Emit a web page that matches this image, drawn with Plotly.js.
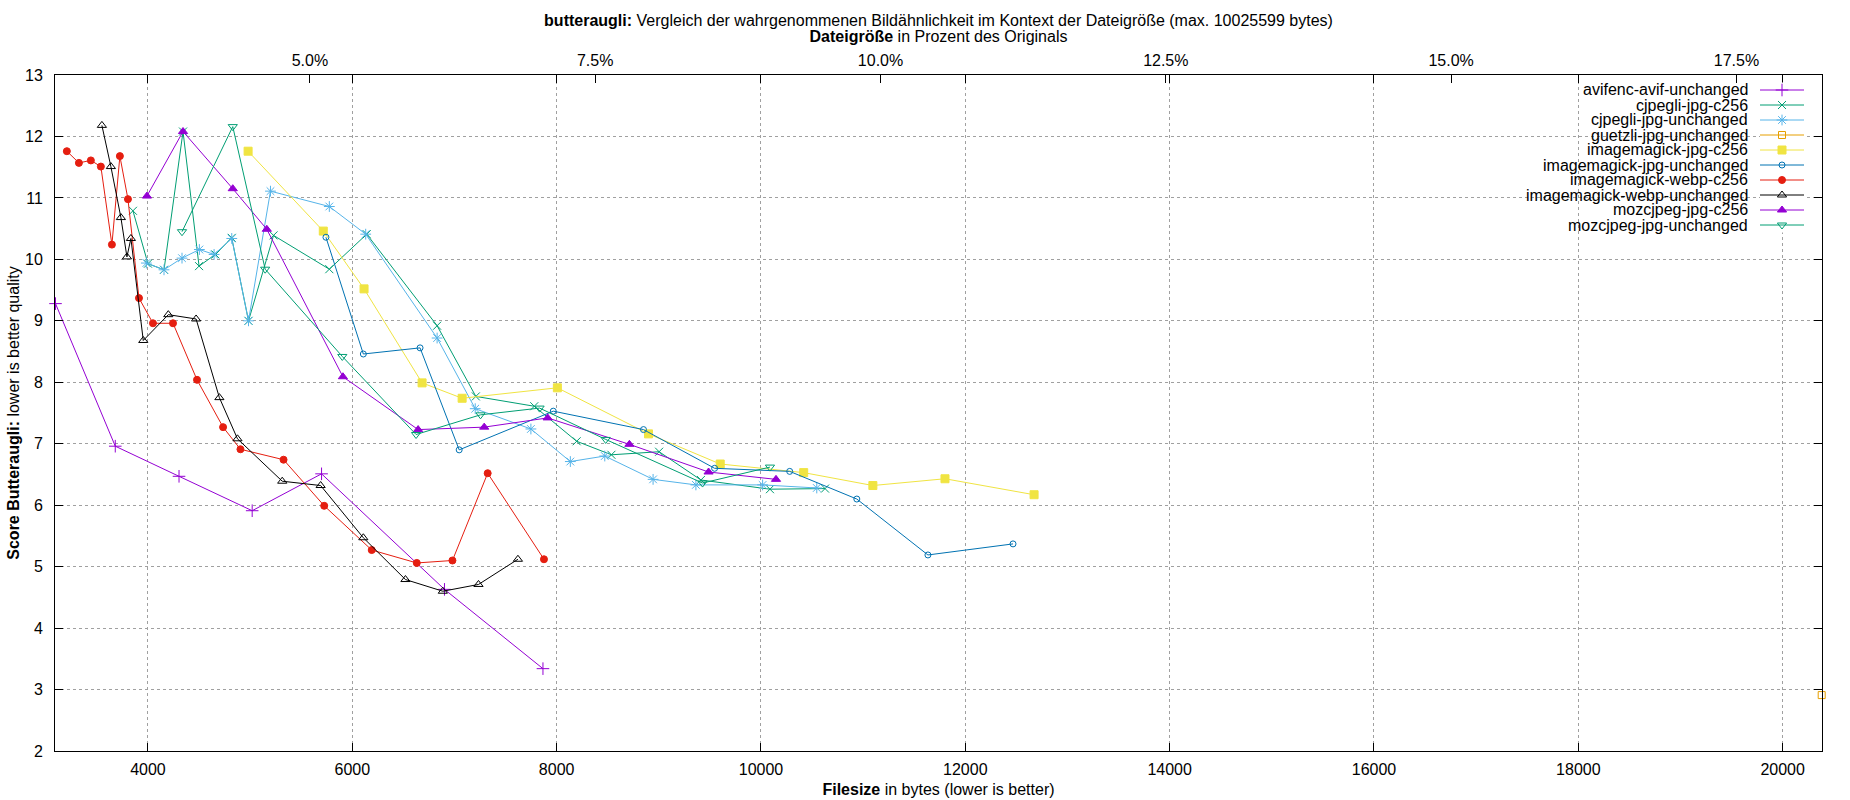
<!DOCTYPE html>
<html>
<head>
<meta charset="utf-8">
<script src="https://cdn.plot.ly/plotly-3.0.1.min.js"></script>
<style>
  body { margin: 0; background: #fff; }
  #graph { width: 1850px; height: 800px; }
</style>
</head>
<body>
<div id="graph"></div>
<script>
// filesize in bytes / butteraugli score, one pair of arrays per encoder
const avifX = [3095, 3680, 4304, 5020, 5699, 6902, 7866];
const avifY = [9.28, 6.96, 6.47, 5.91, 6.51, 4.63, 3.34];

const cjpegliC256X = [3853, 4000, 4157, 4343, 4500, 4660, 4820, 4984, 5229, 5775, 6141, 6830, 7209, 7781, 8196, 8536, 9003, 9412, 10088, 10627];
const cjpegliC256Y = [10.79, 9.93, 9.83, 12.08, 9.89, 10.08, 10.35, 9.0, 10.39, 9.84, 10.41, 8.92, 7.77, 7.61, 7.04, 6.82, 6.87, 6.41, 6.26, 6.27];

const cjpegliUnchX = [3984, 4157, 4333, 4503, 4647, 4820, 4984, 5199, 5775, 6131, 6830, 7203, 7748, 8134, 8471, 8944, 9363, 10016, 10546];
const cjpegliUnchY = [9.94, 9.83, 10.02, 10.16, 10.08, 10.34, 9.0, 11.11, 10.86, 10.41, 8.72, 7.57, 7.24, 6.71, 6.80, 6.42, 6.33, 6.33, 6.28];

const guetzliX = [20382];
const guetzliY = [2.91];

const imJpgC256X = [4980, 5716, 6115, 6683, 7075, 8007, 8899, 9601, 10418, 11095, 11801, 12673];
const imJpgC256Y = [11.76, 10.46, 9.52, 7.99, 7.74, 7.91, 7.16, 6.67, 6.53, 6.32, 6.43, 6.17];

const imJpgUnchX = [5742, 6108, 6663, 7046, 7967, 8850, 9546, 10281, 10938, 11634, 12467];
const imJpgUnchY = [10.36, 8.46, 8.56, 6.90, 7.53, 7.23, 6.60, 6.55, 6.10, 5.19, 5.37];

const imWebpC256X = [3206, 3324, 3441, 3539, 3647, 3725, 3804, 3912, 4049, 4245, 4480, 4735, 4905, 5327, 5725, 6190, 6631, 6980, 7325, 7876];
const imWebpC256Y = [11.76, 11.57, 11.61, 11.51, 10.24, 11.68, 10.98, 9.37, 8.96, 8.96, 8.04, 7.27, 6.91, 6.74, 5.99, 5.27, 5.06, 5.10, 6.52, 5.12];

const imWebpUnchX = [3549, 3637, 3735, 3794, 3833, 3954, 4199, 4471, 4699, 4876, 5314, 5690, 6108, 6520, 6886, 7235, 7621];
const imWebpUnchY = [12.18, 11.51, 10.68, 10.04, 10.34, 8.68, 9.10, 9.03, 7.75, 7.08, 6.39, 6.32, 5.47, 4.79, 4.60, 4.71, 5.12];

const mozC256X = [3990, 4343, 4830, 5163, 5908, 6644, 7291, 7912, 8712, 9487, 10147];
const mozC256Y = [11.03, 12.08, 11.15, 10.49, 8.09, 7.23, 7.27, 7.42, 6.99, 6.54, 6.42];

const mozUnchX = [4333, 4830, 5147, 5902, 6624, 7255, 7833, 8480, 9428, 10088];
const mozUnchY = [10.45, 12.16, 9.84, 8.42, 7.15, 7.47, 7.58, 7.07, 6.36, 6.62];

const seriesNames = [
  "avifenc-avif-unchanged", "cjpegli-jpg-c256", "cjpegli-jpg-unchanged",
  "guetzli-jpg-unchanged", "imagemagick-jpg-c256", "imagemagick-jpg-unchanged",
  "imagemagick-webp-c256", "imagemagick-webp-unchanged", "mozcjpeg-jpg-c256",
  "mozcjpeg-jpg-unchanged"
];
const seriesX = [avifX, cjpegliC256X, cjpegliUnchX, guetzliX, imJpgC256X, imJpgUnchX, imWebpC256X, imWebpUnchX, mozC256X, mozUnchX];
const seriesY = [avifY, cjpegliC256Y, cjpegliUnchY, guetzliY, imJpgC256Y, imJpgUnchY, imWebpC256Y, imWebpUnchY, mozC256Y, mozUnchY];

const xTicks = [4000, 6000, 8000, 10000, 12000, 14000, 16000, 18000, 20000];
const yTicks = [2, 3, 4, 5, 6, 7, 8, 9, 10, 11, 12, 13];
const pctTicks = [5, 7.5, 10, 12.5, 15, 17.5];
const pctLabels = ["5.0%", "7.5%", "10.0%", "12.5%", "15.0%", "17.5%"];
const originalBytes = 111700; // 100% on the top axis

// gnuplot default look
const COLORS = ["#9400d3", "#009e73", "#56b4e9", "#e69f00", "#f0e442", "#0072b2", "#e51e10", "#000000", "#9400d3", "#009e73"];
const SYMBOLS = ["cross-thin-open", "x-thin-open", "asterisk-open", "square-open", "square", "circle-open", "circle", "triangle-up-open", "triangle-up", "triangle-down-open"];
const SIZES = [9, 8, 9, 7, 8, 6, 7, 8, 8, 8];

const FONT = "Liberation Sans, Arial, sans-serif";
const W = 1850, H = 800;
const plotL = 55, plotR = 1822, plotT = 75, plotB = 751;
const xRange = [3090, 20385];
const pctRange = xRange.map((b) => (b / originalBytes) * 100);

const px = (x) => (x - plotL) / (plotR - plotL);
const py = (y) => (plotB - y) / (plotB - plotT);

const marker = (i) => ({
  symbol: SYMBOLS[i],
  size: SIZES[i],
  color: COLORS[i],
  line: { color: COLORS[i], width: 1 },
});

const traces = seriesNames.map((name, i) => ({
  x: seriesX[i],
  y: seriesY[i],
  name: name,
  type: "scatter",
  mode: "lines+markers",
  line: { color: COLORS[i], width: 1 },
  marker: marker(i),
  cliponaxis: false,
  showlegend: false,
  hoverinfo: "skip",
}));

// the top percent axis only gets drawn when something sits on it
traces.push({
  x: pctRange, y: [2, 2], xaxis: "x2", yaxis: "y",
  type: "scatter", mode: "markers",
  marker: { opacity: 0 },
  showlegend: false, hoverinfo: "skip",
});

// legend samples on a hidden little axis pair, gnuplot style (text left, sample right)
const rowH = 15, firstRow = 90;
seriesNames.forEach((name, i) => {
  traces.push({
    x: [0, 1], y: [i, i], xaxis: "x3", yaxis: "y3",
    type: "scatter", mode: "lines",
    line: { color: COLORS[i], width: 1 },
    showlegend: false, hoverinfo: "skip",
  });
  traces.push({
    x: [0.5], y: [i], xaxis: "x3", yaxis: "y3",
    type: "scatter", mode: "markers",
    marker: marker(i), cliponaxis: false,
    showlegend: false, hoverinfo: "skip",
  });
});

const legendAnnotations = seriesNames.map((name, i) => ({
  text: name,
  xref: "paper", yref: "paper",
  x: px(1750), y: py(firstRow + rowH * i),
  xanchor: "right", yanchor: "middle",
  showarrow: false,
  font: { family: FONT, size: 16, color: "#000" },
}));

const tickStyle = {
  ticks: "inside", ticklen: 8, tickcolor: "#000", tickwidth: 1,
  tickfont: { family: FONT, size: 16, color: "#000" },
};

const gridStyle = Object.assign({
  showgrid: true, gridcolor: "#a0a0a0", gridwidth: 1, griddash: "dot",
  zeroline: false, showline: true, linecolor: "#000", linewidth: 1,
}, tickStyle);

const layout = {
  width: W, height: H,
  margin: { l: plotL, r: W - plotR, t: plotT, b: H - plotB, pad: 0 },
  paper_bgcolor: "#fff", plot_bgcolor: "#fff",
  font: { family: FONT, size: 16, color: "#000" },
  showlegend: false,
  hovermode: false,
  title: {
    text: "<b>butteraugli:</b> Vergleich der wahrgenommenen Bildähnlichkeit im Kontext der Dateigröße (max. 10025599 bytes)",
    font: { family: FONT, size: 16, color: "#000" },
    xref: "paper", x: 0.5, xanchor: "center",
    yref: "container", y: 1 - 20 / H, yanchor: "middle",
  },
  xaxis: Object.assign({}, gridStyle, {
    range: xRange,
    tickvals: xTicks,
    tickformat: "d",
    mirror: "ticks",
    ticklabelstandoff: 4,
    title: {
      text: "<b>Filesize</b> in bytes (lower is better)",
      font: { family: FONT, size: 16, color: "#000" },
      standoff: 6,
    },
  }),
  xaxis2: Object.assign({}, tickStyle, {
    overlaying: "x", side: "top", anchor: "y",
    range: pctRange,
    tickvals: pctTicks,
    ticktext: pctLabels,
    showgrid: false, zeroline: false, showline: false,
    ticklabelstandoff: 5,
    title: {
      text: "<b>Dateigröße</b> in Prozent des Originals",
      font: { family: FONT, size: 16, color: "#000" },
      standoff: 5,
    },
  }),
  yaxis: Object.assign({}, gridStyle, {
    range: [2, 13],
    tickvals: yTicks,
    mirror: "ticks",
    ticklabelstandoff: 8,
    title: {
      text: "<b>Score Butteraugli:</b> lower is better quality",
      font: { family: FONT, size: 16, color: "#000" },
      standoff: 1,
    },
  }),
  xaxis3: {
    domain: [px(1760), px(1804)], range: [0, 1], anchor: "y3",
    visible: false, fixedrange: true,
  },
  yaxis3: {
    domain: [py(firstRow + rowH * 9.5), py(firstRow - rowH * 0.5)],
    range: [9.5, -0.5], anchor: "x3",
    visible: false, fixedrange: true,
  },
  shapes: [
    // key box clears the grid behind it
    {
      type: "rect", xref: "paper", yref: "paper", layer: "between",
      x0: px(1517), x1: 1, y0: py(240), y1: 1,
      fillcolor: "#fff", line: { width: 0 },
    },
  ],
  annotations: legendAnnotations,
};

Plotly.newPlot("graph", traces, layout, { staticPlot: true, displayModeBar: false });
</script>
</body>
</html>
